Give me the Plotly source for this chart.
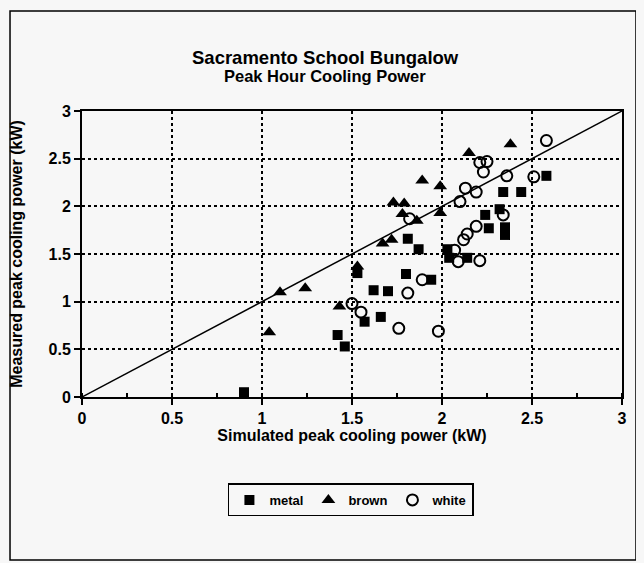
import plotly.graph_objects as go

# ---- data ----
metal_x = [0.90, 1.42, 1.46, 1.53, 1.57, 1.66, 1.62, 1.70, 1.80, 1.94, 1.81, 1.87,
           2.03, 2.04, 2.14, 2.24, 2.32, 2.26, 2.35, 2.35, 2.34, 2.44, 2.58]
metal_y = [0.05, 0.65, 0.53, 1.30, 0.79, 0.84, 1.12, 1.11, 1.29, 1.23, 1.66, 1.55,
           1.55, 1.46, 1.46, 1.91, 1.97, 1.77, 1.78, 1.70, 2.15, 2.15, 2.32]

brown_x = [1.04, 1.10, 1.24, 1.43, 1.53, 1.67, 1.72, 1.73, 1.79, 1.78, 1.86, 1.89,
           1.99, 1.99, 2.15, 2.38]
brown_y = [0.68, 1.10, 1.14, 0.95, 1.37, 1.61, 1.65, 2.04, 2.03, 1.92, 1.85, 2.27,
           2.21, 1.93, 2.56, 2.65]

white_x = [1.50, 1.55, 1.76, 1.98, 1.81, 1.89, 1.82, 2.07, 2.09, 2.21, 2.12, 2.14,
           2.19, 2.10, 2.13, 2.19, 2.34, 2.36, 2.51, 2.58, 2.21, 2.25, 2.23]
white_y = [0.98, 0.89, 0.72, 0.69, 1.09, 1.23, 1.87, 1.54, 1.42, 1.43, 1.65, 1.71,
           1.79, 2.05, 2.19, 2.15, 1.91, 2.32, 2.31, 2.69, 2.46, 2.47, 2.36]

line_x = [0, 3]
line_y = [0, 3]

tick_vals = [0, 0.5, 1, 1.5, 2, 2.5, 3]
tick_text = ["0", "0.5", "1", "1.5", "2", "2.5", "3"]

title_text = "Sacramento School Bungalow"
subtitle_text = "Peak Hour Cooling Power"

FONT = "Liberation Sans"
BG = "#f7f7f7"

fig = go.Figure()

fig.add_trace(go.Scatter(x=line_x, y=line_y, mode="lines",
                         line=dict(color="black", width=1.5),
                         showlegend=False, hoverinfo="skip"))

fig.add_trace(go.Scatter(x=metal_x, y=metal_y, mode="markers", name="metal",
                         marker=dict(symbol="square", size=10, color="black")))
fig.add_trace(go.Scatter(x=brown_x, y=brown_y, mode="markers", name="brown",
                         marker=dict(symbol="triangle-up", size=12, color="black")))
fig.add_trace(go.Scatter(x=white_x, y=white_y, mode="markers", name="white",
                         marker=dict(symbol="circle-open", size=11, color="black",
                                     line=dict(width=2, color="black"))))

axis_common = dict(
    range=[0, 3], tickvals=tick_vals, ticktext=tick_text,
    showline=True, linecolor="black", linewidth=2, mirror=True,
    gridcolor="black", gridwidth=1.5,
    ticks="outside", ticklen=6, tickcolor="black", tickwidth=1.5,
    zeroline=False, automargin=False,
    tickfont=dict(family=FONT, size=16, color="black", weight="bold"),
)

fig.update_xaxes(**axis_common, griddash="dot",
                 minor=dict(dtick=0.25, ticks="inside", ticklen=4, tickcolor="black", showgrid=False),
                 title=dict(text="Simulated peak cooling power (kW)", standoff=4,
                            font=dict(family=FONT, size=16, color="black", weight="bold")))
fig.update_yaxes(**axis_common, griddash="3px,3px",
                 title=dict(text="Measured peak cooling power (kW)", standoff=22,
                            font=dict(family=FONT, size=16, color="black", weight="bold")))

fig.update_layout(
    width=636, height=555,
    margin=dict(l=74, r=22, t=103, b=166, autoexpand=False),
    paper_bgcolor=BG, plot_bgcolor=BG,
    annotations=[
        dict(text="<b>" + title_text + "</b>", xref="paper", yref="paper",
             x=0.45, y=(397 - 58) / 286, xanchor="center", yanchor="middle",
             showarrow=False, font=dict(family=FONT, size=18.5, color="black")),
        dict(text="<b>" + subtitle_text + "</b>", xref="paper", yref="paper",
             x=0.45, y=(397 - 76) / 286, xanchor="center", yanchor="middle",
             showarrow=False, font=dict(family=FONT, size=16.5, color="black")),
    ],
    legend=dict(orientation="h", x=0.498, y=-0.36, xanchor="center", yanchor="middle",
                bgcolor=BG, bordercolor="black", borderwidth=1.5,
                font=dict(family=FONT, size=13, color="black", weight="bold"),
                itemwidth=30, tracegroupgap=0),
    shapes=[dict(type="rect", xref="paper", yref="paper",
                 x0=-0.1333, x1=1.0259, y0=-0.570, y1=1.35,
                 line=dict(color="black", width=1.5), layer="below")],
    showlegend=True,
)

fig.write_html("out.html", post_script="document.body.style.background='#f7f7f7';")
